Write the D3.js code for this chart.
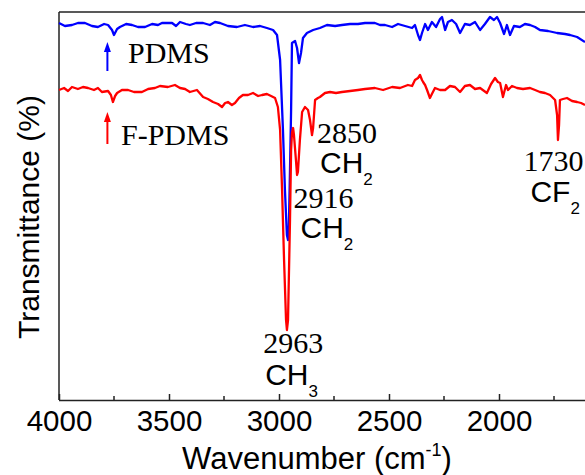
<!DOCTYPE html>
<html>
<head>
<meta charset="utf-8">
<script src="https://cdn.jsdelivr.net/npm/d3@7"></script>
<style>
  html, body { margin: 0; padding: 0; background: #fff; }
  svg { display: block; }
</style>
</head>
<body>
<svg id="chart" width="585" height="475"></svg>
<script>
// ---------- data ----------
const majorTicks = [4000, 3500, 3000, 2500, 2000];
const minorTicks = [3750, 3250, 2750, 2250, 1750];

// PDMS spectrum: [wavenumber (cm-1), transmittance]
const pdms = [
  [4000,97.25],[3973,96.5],[3941,96.75],[3914,97.25],[3882,97.25],[3850,96.5],[3823,96.25],
  [3795,97.0],[3777,96.75],[3759,95.5],[3750,94.25],[3736,95.75],[3723,96.25],[3695,97.0],
  [3668,96.75],[3641,96.25],[3609,96.25],[3577,97.0],[3550,96.75],[3532,97.25],[3486,97.25],
  [3468,96.5],[3450,97.5],[3423,97.0],[3405,96.75],[3377,97.25],[3345,97.25],[3314,96.75],
  [3291,97.5],[3268,97.25],[3232,96.5],[3191,96.25],[3155,96.75],[3118,96.25],[3086,96.5],
  [3055,96.0],[3027,95.5],[3009,94.25],[2995,88.0],[2982,70.5],[2973,55.5],[2964,44.25],
  [2959,43.0],[2955,46.75],[2950,60.5],[2945,75.5],[2941,92.25],[2927,92.75],[2918,91.0],
  [2909,87.25],[2900,89.75],[2891,93.5],[2873,94.75],[2845,95.5],[2814,96.0],[2782,96.75],
  [2745,96.5],[2714,96.75],[2677,97.0],[2641,97.0],[2609,97.25],[2564,97.25],[2541,96.75],
  [2518,96.75],[2486,96.25],[2459,97.0],[2427,96.5],[2395,96.0],[2382,96.75],[2368,94.25],
  [2359,93.0],[2350,94.75],[2336,97.0],[2323,95.5],[2305,97.5],[2286,96.25],[2268,98.25],
  [2259,98.75],[2245,95.5],[2232,97.5],[2214,98.0],[2195,97.0],[2177,94.75],[2155,97.0],
  [2132,96.75],[2109,97.5],[2086,95.5],[2064,97.0],[2041,98.75],[2023,98.0],[2009,98.75],
  [1995,97.25],[1977,94.5],[1964,96.75],[1950,94.25],[1932,96.5],[1905,96.25],[1882,97.0],
  [1859,96.75],[1836,96.25],[1814,95.5],[1777,95.25],[1736,94.75],[1700,94.5],[1677,94.25],
  [1645,93.75],[1609,92.5]
];

// F-PDMS spectrum: [wavenumber (cm-1), transmittance]
const fpdms = [
  [4000,80.5],[3977,81.0],[3959,80.25],[3941,81.25],[3914,80.75],[3891,81.25],[3868,81.0],
  [3841,80.5],[3823,81.0],[3805,80.0],[3777,80.25],[3764,79.25],[3755,77.5],[3745,79.0],
  [3736,79.75],[3714,80.5],[3686,80.5],[3659,80.0],[3623,80.0],[3595,80.75],[3564,81.0],
  [3541,81.5],[3505,81.25],[3473,81.75],[3450,81.0],[3427,80.75],[3405,80.0],[3373,80.5],
  [3345,78.75],[3323,78.25],[3300,77.5],[3277,77.0],[3259,76.25],[3245,77.25],[3232,77.5],
  [3214,76.75],[3200,77.25],[3182,78.5],[3164,79.25],[3141,79.25],[3118,79.75],[3095,79.0],
  [3077,79.25],[3055,79.5],[3036,79.0],[3018,78.5],[3005,76.25],[2995,70.5],[2986,55.5],
  [2977,38.0],[2968,23.0],[2964,20.5],[2959,23.0],[2950,48.0],[2945,65.5],[2941,69.75],
  [2936,71.0],[2932,69.25],[2923,63.0],[2918,59.25],[2914,60.0],[2905,68.0],[2895,75.0],
  [2882,76.25],[2868,75.5],[2859,73.0],[2850,69.25],[2845,71.0],[2836,78.0],[2823,78.5],
  [2814,78.75],[2791,79.75],[2768,80.0],[2741,79.75],[2714,80.0],[2677,80.25],[2641,80.5],
  [2609,80.75],[2564,81.0],[2527,80.5],[2486,81.25],[2450,81.0],[2414,81.75],[2395,81.5],
  [2382,83.0],[2368,83.5],[2359,84.25],[2350,83.0],[2345,82.5],[2336,81.75],[2327,80.5],
  [2314,78.5],[2305,79.5],[2291,81.0],[2268,80.5],[2245,80.5],[2223,81.5],[2200,81.25],
  [2177,80.0],[2155,81.5],[2132,81.75],[2109,80.75],[2086,81.0],[2055,79.75],[2036,82.0],
  [2018,83.5],[2005,82.5],[1995,82.25],[1982,78.75],[1968,81.75],[1959,80.5],[1941,81.5],
  [1918,81.0],[1891,80.75],[1859,81.0],[1836,80.5],[1814,80.0],[1791,79.75],[1768,79.25],
  [1745,78.0],[1736,74.25],[1732,68.0],[1727,71.75],[1723,78.0],[1709,78.25],[1691,78.5],
  [1668,77.75],[1645,77.5],[1627,77.25],[1609,76.75]
];

const seriesNames = ["PDMS", "F-PDMS"];
const seriesColors = ["#0000ff", "#ff0000"];

// peak annotations: wavenumber, number label, group, subscript
const peakWn   = [2963, 2916, 2850, 1730];
const peakNum  = ["2963", "2916", "2850", "1730"];
const peakGrp  = ["CH", "CH", "CH", "CF"];
const peakSub  = ["3", "2", "2", "2"];

// ---------- layout ----------
const svg = d3.select("#chart");
const L = 59, T = 12, B = 400;
const x = d3.scaleLinear().domain([4000, 1500]).range([L, 609]);
const y = d3.scaleLinear().domain([3, 100]).range([B, T]);

const axisColor = "#222";
const sans = "'Liberation Sans', Arial, sans-serif";
const serif = "'Liberation Serif', 'Times New Roman', serif";

// frame: top and left lines
svg.append("line").attr("x1", L).attr("x2", 620).attr("y1", T).attr("y2", T)
  .attr("stroke", axisColor).attr("stroke-width", 1.5);
svg.append("line").attr("x1", L).attr("x2", L).attr("y1", T).attr("y2", B)
  .attr("stroke", axisColor).attr("stroke-width", 1.5);

// bottom axis with inward ticks
const xAxis = d3.axisBottom(x).tickValues(majorTicks).tickFormat(d3.format("d"))
  .tickSizeInner(-6).tickSizeOuter(0).tickPadding(12);
const gx = svg.append("g").attr("transform", `translate(0,${B})`).call(xAxis);
gx.select(".domain").attr("stroke", axisColor).attr("stroke-width", 1.5)
  .attr("d", `M${L},0.5H620`);
gx.selectAll(".tick line").attr("stroke", axisColor).attr("stroke-width", 1.5);
gx.selectAll(".tick text").attr("fill", "#000").attr("font-family", sans)
  .attr("font-size", 29.5).attr("dy", "0.71em").attr("y", 10);

const gMinor = svg.append("g").attr("transform", `translate(0,${B})`);
gMinor.selectAll("line").data(minorTicks).join("line")
  .attr("x1", d => x(d)).attr("x2", d => x(d)).attr("y1", 0).attr("y2", -4)
  .attr("stroke", axisColor).attr("stroke-width", 1.5);

// axis titles
const xt = svg.append("text").attr("x", 317).attr("y", 469)
  .attr("text-anchor", "middle").attr("font-family", sans).attr("font-size", 31).attr("fill", "#000");
xt.append("tspan").text("Wavenumber (cm");
xt.append("tspan").text("-1").attr("font-size", 18).attr("dy", -13);
xt.append("tspan").text(")").attr("dy", 13);

svg.append("text").attr("transform", "translate(39,217) rotate(-90)")
  .attr("text-anchor", "middle").attr("font-family", sans).attr("font-size", 30)
  .attr("fill", "#000").text("Transmittance (%)");

// spectra
const line = d3.line().x(d => x(d[0])).y(d => y(d[1]));
[pdms, fpdms].forEach((s, i) => {
  svg.append("path").datum(s).attr("d", line)
    .attr("fill", "none").attr("stroke", seriesColors[i])
    .attr("stroke-width", 2.3).attr("stroke-linejoin", "round");
});

// series labels with arrows
const labelWn = 3780;
const arrowTip = [42, 112], arrowTail = [71, 144], labelBase = [63, 145], labelX = [128, 121];
seriesNames.forEach((n, i) => {
  const ax = x(labelWn);
  svg.append("line").attr("x1", ax).attr("x2", ax)
    .attr("y1", arrowTip[i] + 6).attr("y2", arrowTail[i])
    .attr("stroke", seriesColors[i]).attr("stroke-width", 2);
  svg.append("path")
    .attr("d", `M${ax},${arrowTip[i]} L${ax - 3.5},${arrowTip[i] + 10} L${ax + 3.5},${arrowTip[i] + 10} Z`)
    .attr("fill", seriesColors[i]);
  svg.append("text").attr("x", labelX[i]).attr("y", labelBase[i])
    .attr("font-family", serif).attr("font-size", 30).attr("fill", "#000").text(n);
});

// peak annotations (offsets relative to peak position)
const numDx = [-24, -4, 5, -35], numY = [353, 208, 143, 171];
const grpDx = [-22, 3, 8, -28], grpY = [385, 238, 173, 202];
peakWn.forEach((wn, i) => {
  const px = x(wn);
  svg.append("text").attr("x", px + numDx[i]).attr("y", numY[i])
    .attr("font-family", serif).attr("font-size", 30).attr("fill", "#000").text(peakNum[i]);
  const g = svg.append("text").attr("x", px + grpDx[i]).attr("y", grpY[i])
    .attr("font-family", sans).attr("font-size", 30).attr("fill", "#000");
  g.append("tspan").text(peakGrp[i]);
  g.append("tspan").text(peakSub[i]).attr("font-size", 17).attr("dy", 12);
});
</script>
</body>
</html>
